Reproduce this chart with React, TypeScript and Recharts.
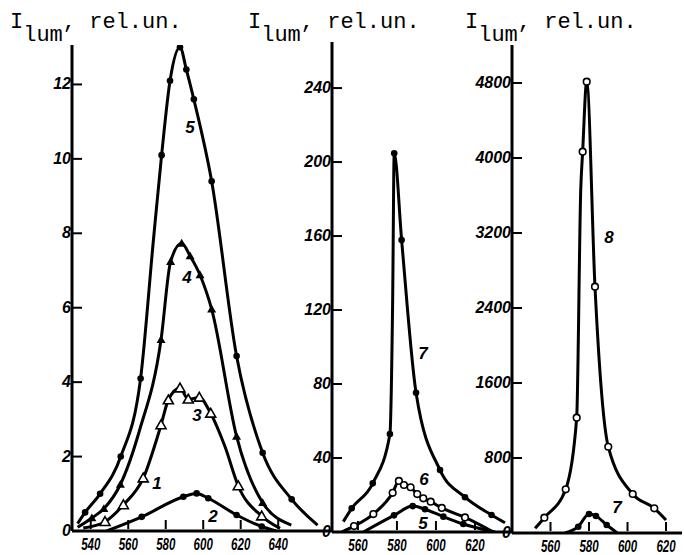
import React from 'react'
import { LineChart, Line, XAxis, YAxis } from 'recharts'

// wavelength, nm  /  I_lum, rel. units

// left panel
const nm1 = [533, 537, 545, 556, 566.6, 573.4, 577.8, 582.3, 587.6, 591, 595, 604.5, 617.8, 631.7, 647.2, 661]
const lum1c5 = [0.2, 0.5, 1.0, 2.0, 4.1, 7.8, 10.1, 12.1, 13.0, 12.4, 11.6, 9.4, 4.7, 2.1, 0.85, 0.16]
const nm1c4 = [533, 540.6, 547, 555.8, 566, 577.5, 582.6, 588.5, 593, 598.3, 604.5, 617.8, 631.7, 647]
const lum1c4 = [0.1, 0.35, 0.6, 1.25, 2.7, 5.14, 7.24, 7.73, 7.39, 6.88, 5.96, 2.54, 0.76, 0.16]
const nm1c3 = [536, 547.6, 557.4, 568, 577.5, 581.4, 587.6, 592, 597.9, 604, 611.6, 618.7, 631.2, 641]
const lum1c3 = [0.08, 0.25, 0.7, 1.42, 2.85, 3.52, 3.84, 3.54, 3.59, 3.16, 2.27, 1.21, 0.4, 0.07]
const nm1c2 = [548.5, 567.2, 589.4, 596.5, 602.7, 617.8, 631.2, 639]
const lum1c2 = [0, 0.38, 0.92, 1.01, 0.88, 0.43, 0.12, 0]

// middle panel
const nm2c7 = [552.5, 556.8, 567.6, 576.4, 577.8, 578.6, 582.4, 589.8, 602.1, 614.9, 628.5, 635.4]
const lum2c7 = [5.6, 12.8, 26.3, 53, 125, 204.7, 157.8, 75.3, 33.5, 18.8, 9.2, 5]
const nm2c6 = [551.7, 558, 567.9, 577.8, 581, 583.6, 587, 590.4, 593.5, 597.3, 603, 614.9, 629.4]
const lum2c6 = [0, 3.2, 9.7, 21.2, 27.6, 25.4, 24.2, 20.5, 18.2, 16.4, 13, 7.9, 0]
const nm2c5 = [562.8, 578.5, 588.1, 594.4, 603.8, 614, 630.3]
const lum2c5 = [0, 9, 14, 12.3, 8.3, 4.3, 0]

// right panel
const nm3c8 = [552, 556.8, 567.9, 573.6, 575.7, 576.7, 578.8, 583.1, 590, 602.7, 613.9, 620]
const lum3c8 = [50, 163, 466, 1230, 3660, 4067, 4814, 2627, 920, 416, 263, 139]
const nm3c7 = [567.5, 574.4, 580, 583.6, 589.2, 594.7]
const lum3c7 = [0, 67, 203, 181, 85, 0]

const xTicks1 = [540, 560, 580, 600, 620, 640]
const xTicks2 = [560, 580, 600, 620]
const xTicks3 = [560, 580, 600, 620]
const yTicks1 = [0, 2, 4, 6, 8, 10, 12]
const yTicks2 = [0, 40, 80, 120, 160, 200, 240]
const yTicks3 = [0, 800, 1600, 2400, 3200, 4000, 4800]

const pts = (xs: number[], ys: number[]) => xs.map((x, i) => ({ x, y: ys[i] }))

const SANS = '"Liberation Sans", Arial, sans-serif'
const MONO = '"Liberation Mono", "Courier New", monospace'

type Mark = 'dot' | 'tri' | 'openTri' | 'ring'

// curve points that only shape the line (no symbol drawn on them)
const marker = (kind: Mark, count: number, bare: number[]) => (p: any) => {
  const { cx, cy, index } = p
  if (cx == null || cy == null || index === 0 || index === count - 1 || bare.includes(index))
    return <g key={`m${index}`} />
  if (kind === 'dot') return <circle key={`m${index}`} cx={cx} cy={cy} r={3.3} fill="#000" />
  if (kind === 'ring')
    return <circle key={`m${index}`} cx={cx} cy={cy} r={3.3} fill="#fff" stroke="#000" strokeWidth={1.6} />
  const s = kind === 'tri' ? 4.5 : 5
  const d = `M${cx},${cy - s} L${cx + s},${cy + s * 0.75} L${cx - s},${cy + s * 0.75} Z`
  return kind === 'tri'
    ? <path key={`m${index}`} d={d} fill="#000" />
    : <path key={`m${index}`} d={d} fill="#fff" stroke="#000" strokeWidth={1.6} />
}

function YTick({ x, y, payload }: any) {
  return (
    <g>
      <line x1={x + 3} x2={x + 13} y1={y} y2={y} stroke="#000" strokeWidth={2} />
      <text x={x + 2} y={y} dy={5} textAnchor="end" fontFamily={SANS} fontSize={16}
        fontWeight="bold" fontStyle="italic" fill="#000">{payload.value}</text>
    </g>
  )
}

function XTick({ x, y, payload }: any) {
  const s = String(payload.value)
  return (
    <g>
      <line x1={x} x2={x} y1={y - 2} y2={y - 11} stroke="#000" strokeWidth={2} />
      <text x={x} y={y + 19} textAnchor="middle" fontFamily={SANS} fontSize={17}
        fontWeight="bold" fontStyle="italic" fill="#000"
        textLength={s.length * 6.4} lengthAdjust="spacingAndGlyphs">{s}</text>
    </g>
  )
}

type Series = { data: { x: number; y: number }[]; mark: Mark; bare?: number[] }

function Panel(props: {
  left: number; width: number; top: number; xHeight: number; yWidth: number; right: number
  xDomain: [number, number]; yDomain: [number, number]; xTicks: number[]; yTicks: number[]; series: Series[]
}) {
  const { left, width, top, xHeight, yWidth, right, xDomain, yDomain, xTicks, yTicks, series } = props
  return (
    <div style={{ position: 'absolute', left, top: 0 }}>
      <LineChart width={width} height={555} margin={{ top, right, bottom: 0, left: 0 }}>
        <XAxis type="number" dataKey="x" domain={xDomain} ticks={xTicks} allowDataOverflow
          height={xHeight} tickSize={0} tickMargin={0} tick={<XTick />} tickLine={false}
          axisLine={{ stroke: '#000', strokeWidth: 3 }} interval={0} />
        <YAxis type="number" domain={yDomain} ticks={yTicks} allowDataOverflow width={yWidth}
          tickSize={0} tickMargin={3} tick={<YTick />} tickLine={false}
          axisLine={{ stroke: '#000', strokeWidth: 3 }} interval={0} />
        {series.map((s, i) => (
          <Line key={i} data={s.data} dataKey="y" type="monotone" stroke="#000" strokeWidth={3}
            dot={marker(s.mark, s.data.length, s.bare ?? [])} activeDot={false} isAnimationActive={false} />
        ))}
      </LineChart>
    </div>
  )
}

function Title({ x }: { x: number }) {
  return (
    <text x={x} y={28} fontFamily={MONO} fontSize={22} fill="#000">
      I<tspan dy={13}>lum</tspan><tspan dy={-13}>, rel.un.</tspan>
    </text>
  )
}

const curveLabels: [string, number, number][] = [
  ['5', 190, 127], ['4', 187, 277], ['3', 197, 415], ['1', 157, 483], ['2', 213, 516],
  ['7', 423, 353], ['6', 424, 479], ['5', 423, 523],
  ['8', 609, 237], ['7', 617, 507],
]

export default function App() {
  return (
    <div style={{ position: 'absolute', left: 0, top: 0, width: 684, height: 555, background: '#fff', overflow: 'hidden' }}>
      <Panel left={0} width={332} top={45} xHeight={24} yWidth={72} right={0}
        xDomain={[530, 668.7]} yDomain={[0, 13.06]} xTicks={xTicks1} yTicks={yTicks1}
        series={[
          { data: pts(nm1, lum1c5), mark: 'dot', bare: [5] },
          { data: pts(nm1c4, lum1c4), mark: 'tri', bare: [4] },
          { data: pts(nm1c3, lum1c3), mark: 'openTri', bare: [10] },
          { data: pts(nm1c2, lum1c2), mark: 'dot' },
        ]} />
      <Panel left={272} width={240} top={42} xHeight={23} yWidth={60} right={0}
        xDomain={[546.7, 639]} yDomain={[0, 264.9]} xTicks={xTicks2} yTicks={yTicks2}
        series={[
          { data: pts(nm2c7, lum2c7), mark: 'dot', bare: [4] },
          { data: pts(nm2c6, lum2c6), mark: 'ring' },
          { data: pts(nm2c5, lum2c5), mark: 'dot' },
        ]} />
      <Panel left={452} width={232} top={45} xHeight={22} yWidth={60} right={2}
        xDomain={[540, 628.3]} yDomain={[0, 5205]} xTicks={xTicks3} yTicks={yTicks3}
        series={[
          { data: pts(nm3c8, lum3c8), mark: 'ring', bare: [4] },
          { data: pts(nm3c7, lum3c7), mark: 'dot' },
        ]} />
      <svg width={684} height={555} style={{ position: 'absolute', left: 0, top: 0, pointerEvents: 'none' }}>
        <Title x={10} />
        <Title x={248} />
        <Title x={465} />
        {curveLabels.map(([t, x, y], i) => (
          <text key={i} x={x} y={y} textAnchor="middle" dominantBaseline="central" fontFamily={SANS}
            fontSize={17} fontWeight="bold" fontStyle="italic" fill="#000">{t}</text>
        ))}
      </svg>
    </div>
  )
}
